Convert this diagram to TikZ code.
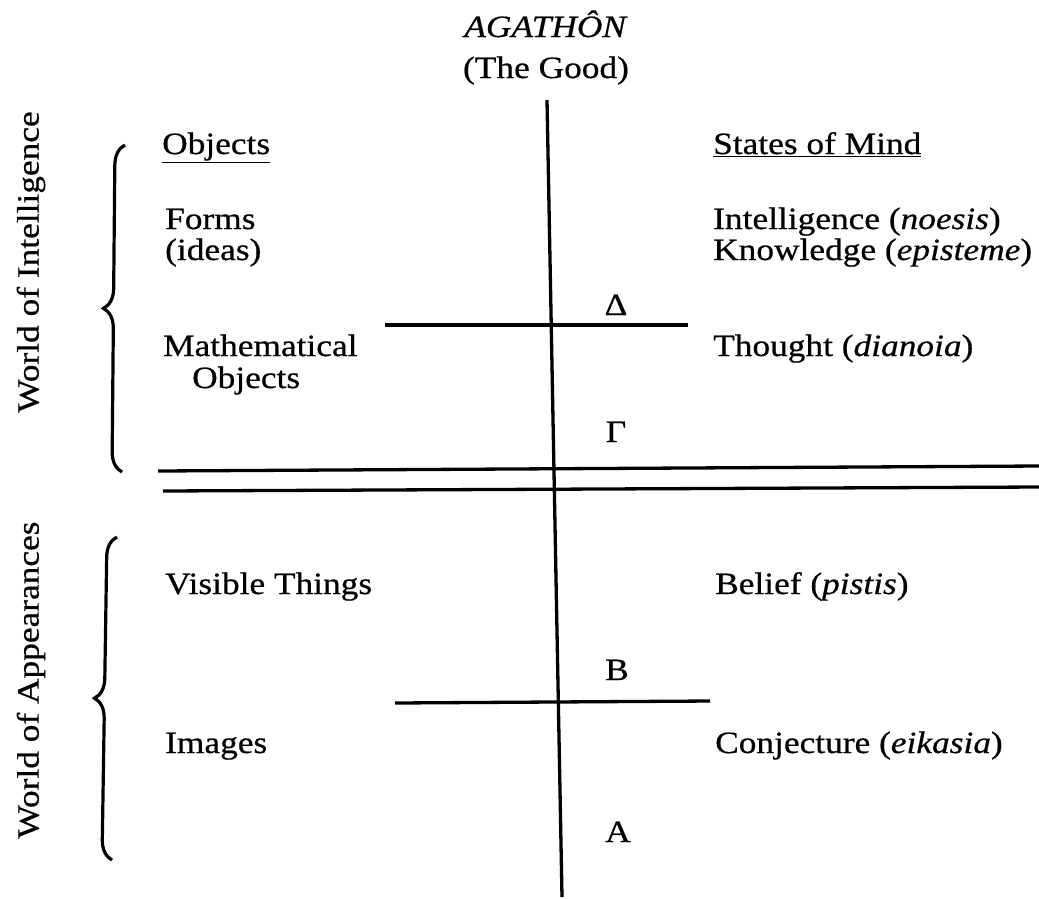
\documentclass[tikz,border=0pt]{standalone}
\usepackage{fontspec}
\setmainfont{Liberation Serif}[FakeStretch=1.14, FakeBold=0.6]
\usetikzlibrary{decorations.pathreplacing}

\begin{document}
\begin{tikzpicture}[x=1pt, y=-1pt,
    every node/.style={inner sep=0pt, font=\fontsize{31}{34}\selectfont},
    rule/.style={line width=3.3pt},
    curly/.style={line width=3.2pt, decorate, decoration={brace, amplitude=20pt}},
    entry/.style={anchor=base west},
    letter/.style={anchor=base}]
    \useasboundingbox (0,0) rectangle (1039,898);

    \node[letter] (agathon) at (546,37) {\textit{AGATHÔN}};
    \node[letter] (good) at (546,78) {(The Good)};

    \coordinate (top) at (547,100);
    \coordinate (bottom) at (562,897);
    \draw[rule] (top) -- (bottom);

    \coordinate (dl) at (385,325);
    \coordinate (dr) at (688,325);
    \draw[rule] (dl) -- (dr);

    \coordinate (al) at (158,471);
    \coordinate (ar) at (1039,466);
    \coordinate (bl) at (163,491);
    \coordinate (br) at (1039,487);
    \draw[rule] (al) -- (ar);
    \draw[rule] (bl) -- (br);

    \coordinate (cl) at (395,703);
    \coordinate (cr) at (710,701);
    \draw[rule] (cl) -- (cr);

    \node[letter] (delta) at (616,315) {Δ};
    \node[letter] (gamma) at (616,442) {Γ};
    \node[letter] (beta) at (617,680) {B};
    \node[letter] (alpha) at (618,842) {A};

    \node[rotate=90] (intel) at (31,262) {World of Intelligence};
    \node[rotate=90] (appear) at (31,680) {World of Appearances};
    \coordinate (ib) at (122,472);
    \coordinate (it) at (125,145);
    \coordinate (ab) at (112,860);
    \coordinate (at) at (117,537);
    \draw[curly] (ib) -- (it);
    \draw[curly] (ab) -- (at);

    \node[entry] (objects) at (162,154) {\underline{Objects}};
    \node[entry] (forms) at (165,229) {Forms};
    \node[entry] (ideas) at (165,260) {(ideas)};
    \node[entry] (math) at (163,356) {Mathematical};
    \node[entry] (mathobj) at (192,388) {Objects};
    \node[entry] (visible) at (165,594) {Visible Things};
    \node[entry] (images) at (165,753) {Images};

    \node[entry] (states) at (713,154) {\underline{States of Mind}};
    \node[entry] (noesis) at (713,229) {Intelligence (\textit{noesis})};
    \node[entry] (episteme) at (713,260) {Knowledge (\textit{episteme})};
    \node[entry] (dianoia) at (713,356) {Thought (\textit{dianoia})};
    \node[entry] (pistis) at (715,594) {Belief (\textit{pistis})};
    \node[entry] (eikasia) at (715,753) {Conjecture (\textit{eikasia})};
\end{tikzpicture}
\end{document}
